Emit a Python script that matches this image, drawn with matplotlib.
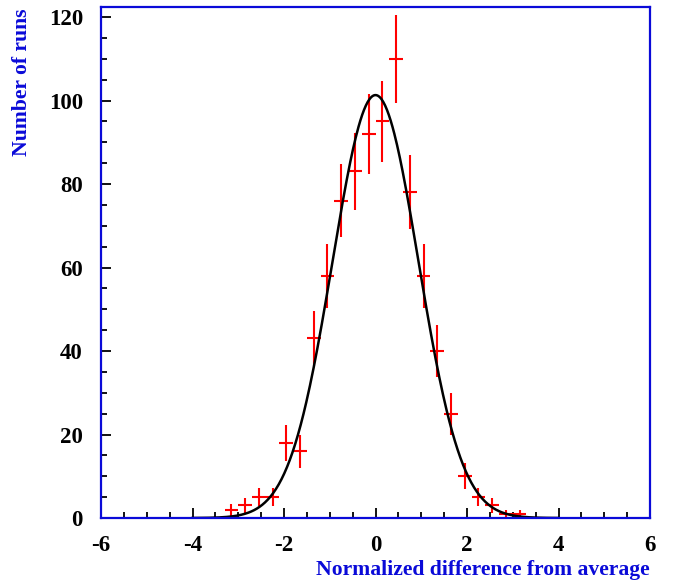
import numpy as np
import matplotlib
matplotlib.use("Agg")
import matplotlib.pyplot as plt
from matplotlib.ticker import MultipleLocator

# histogram of normalized differences (bin width 0.3)
bin_centers = [-3.15, -2.85, -2.55, -2.25, -1.95, -1.65, -1.35, -1.05, -0.75, -0.45, -0.15,
               0.15, 0.45, 0.75, 1.05, 1.35, 1.65, 1.95, 2.25, 2.55, 2.85, 3.15]
counts = [2, 3, 5, 5, 18, 16, 43, 58, 76, 83, 92,
          95, 110, 78, 58, 40, 25, 10, 5, 3, 1, 1]
bin_width = 0.3

# gaussian fit parameters
fit_amp = 101.3
fit_mean = 0.0
fit_sigma = 0.94
fit_range = [-4.0, 4.0]

blue = "#0a0ad8"
plt.rcParams['font.family'] = ['Liberation Serif', 'DejaVu Serif']
plt.rcParams['font.weight'] = 'bold'
plt.rcParams['axes.unicode_minus'] = False

fig = plt.figure(figsize=(6.81, 5.81), dpi=100)
ax = fig.add_axes([101 / 681, 63 / 581, 549 / 681, 511 / 581])

x = np.array(bin_centers)
y = np.array(counts)
ax.errorbar(x, y, yerr=np.sqrt(y), xerr=bin_width / 2, fmt='none',
            ecolor='#ff0000', elinewidth=1.5, capsize=0)

xf = np.linspace(fit_range[0], fit_range[1], 400)
yf = fit_amp * np.exp(-0.5 * ((xf - fit_mean) / fit_sigma) ** 2)
ax.plot(xf, yf, color='black', lw=1.8)

ax.set_xlim(-6, 6)
ax.set_ylim(0, 122.4)
ax.xaxis.set_major_locator(MultipleLocator(2))
ax.xaxis.set_minor_locator(MultipleLocator(0.5))
ax.yaxis.set_major_locator(MultipleLocator(20))
ax.yaxis.set_minor_locator(MultipleLocator(5))
ax.tick_params(which='both', direction='in', color='black', width=1.3,
               top=False, right=False)
ax.tick_params(which='major', length=7.5)
ax.tick_params(which='minor', length=4.5)
ax.tick_params(axis='x', which='major', pad=12, labelsize=16.5)
ax.tick_params(axis='y', which='major', pad=13, labelsize=16.5)
for lab in ax.get_xticklabels() + ax.get_yticklabels():
    lab.set_fontweight('bold')

for sp in ax.spines.values():
    sp.set_color(blue)
    sp.set_linewidth(1.6)

fig.text(650 / 681, 11 / 581, "Normalized difference from average", color=blue,
         fontsize=15.6, fontweight='bold', ha='right', va='center')
fig.text(22 / 681, 1 - 8 / 581, "Number of runs", color=blue, fontsize=15.6,
         fontweight='bold', rotation=90, ha='center', va='top')

fig.savefig("out.png", dpi=100)
